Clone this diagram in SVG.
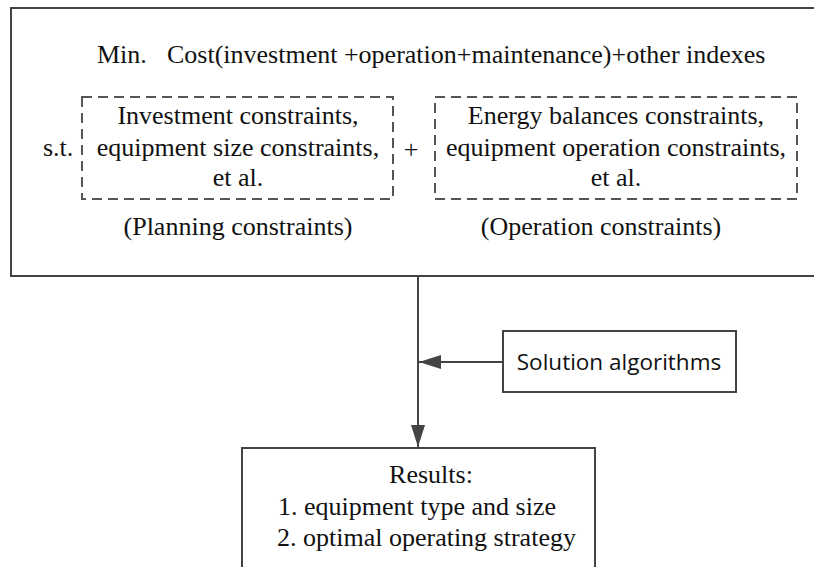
<svg xmlns="http://www.w3.org/2000/svg" width="814" height="567" viewBox="0 0 814 567">
<defs>
<style>
.box{fill:#fff;stroke:#444;stroke-width:2}
.dash{fill:none;stroke:#555;stroke-width:2;stroke-dasharray:10 6}
.line{fill:none;stroke:#444;stroke-width:2}
.serif{font-family:'Liberation Serif','Times New Roman',serif;font-size:26px;fill:#111}
.sans{font-family:'Open Sans','Noto Sans',sans-serif;font-size:22.5px;fill:#111}
.mid{text-anchor:middle}
</style>
<marker id="arr" viewBox="0 0 22 14" refX="22" refY="7" markerWidth="22" markerHeight="14" markerUnits="userSpaceOnUse" orient="auto">
<path d="M0,0 L22,7 L0,14 Z" fill="#444"/>
</marker>
</defs>
<rect width="814" height="567" fill="#fff"/>
<g id="model">
<rect class="box" x="11" y="8" width="806" height="268" stroke-width="2.5"/>
<text class="serif" x="97" y="62.5">Min.<tspan x="167">Cost(investment +operation+maintenance)+other indexes</tspan></text>
<text class="serif" x="43" y="156">s.t.</text>
<text class="serif" x="411" y="158" text-anchor="middle">+</text>
</g>
<g id="planning">
<rect class="dash" x="82" y="97" width="311" height="102"/>
<text class="serif mid" x="238" y="124">Investment constraints,</text>
<text class="serif mid" x="238" y="156">equipment size constraints,</text>
<text class="serif mid" x="238" y="186">et al.</text>
<text class="serif mid" x="238" y="235">(Planning constraints)</text>
</g>
<g id="operation">
<rect class="dash" x="435" y="97" width="362" height="102"/>
<text class="serif mid" x="616" y="124">Energy balances constraints,</text>
<text class="serif mid" x="616" y="156">equipment operation constraints,</text>
<text class="serif mid" x="616" y="186">et al.</text>
<text class="serif mid" x="601" y="235">(Operation constraints)</text>
</g>
<g id="solver">
<rect class="box" x="503" y="331" width="233" height="61"/>
<text class="sans" x="619" y="370" text-anchor="middle">Solution algorithms</text>
</g>
<g id="results">
<rect class="box" x="242" y="448" width="353" height="130"/>
<text class="serif mid" x="431" y="483">Results:</text>
<text class="serif" x="278" y="515">1. equipment type and size</text>
<text class="serif" x="277" y="546">2. optimal operating strategy</text>
</g>
<g id="connectors">
<line class="line" x1="418" y1="277" x2="418" y2="447" marker-end="url(#arr)"/>
<line class="line" x1="503" y1="362" x2="419" y2="362" marker-end="url(#arr)"/>
</g>
</svg>
